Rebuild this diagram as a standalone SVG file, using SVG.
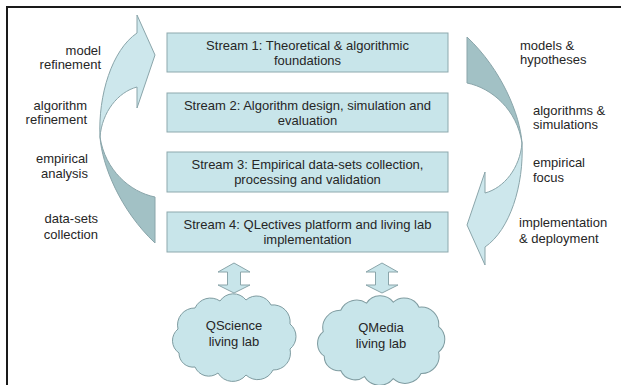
<svg xmlns="http://www.w3.org/2000/svg" width="621" height="385" viewBox="0 0 621 385">
<style>
text{font-family:"Liberation Sans",Arial,sans-serif;font-size:13px;fill:#262626}
.c{text-anchor:middle}
.e{text-anchor:end}
.box{fill:#c8e5ea;stroke:#8ea9ae;stroke-width:1}
.lt{fill:#cde7ec;stroke:#8aa5aa;stroke-width:1}
.dk{fill:#a2c1c5;stroke:#8aa5aa;stroke-width:1}
.cl{fill:#c8e5ea;stroke:#7f9ca1;stroke-width:1}
</style>
<defs>
<g id="carrow">
<path class="dk" d="M155,197 C130,192 105,170 100,137 C102,165 120,210 155,243 Z"/>
<path class="lt" d="M100,137 C98,95 112,50 137,33 L137,15 L155,55 L137,108 L137,87 C118,92 102,112 100,137 Z"/>
</g>
<path id="cloud" class="cl" d="M9,60 A15,15 0 0 1 8,36 A17,17 0 0 1 25,15 A17,17 0 0 1 50,8 A16,16 0 0 1 76,7 A16,16 0 0 1 101,12 A17,17 0 0 1 120,31 A16,16 0 0 1 120,56 A17,17 0 0 1 103,77 A17,17 0 0 1 76,82 A17,17 0 0 1 48,80 A15,15 0 0 1 25,74 A14,14 0 0 1 9,60 Z"/>
<path id="dbl" d="M0,0 L16,9 L6.5,9 L6.5,22 L16,22 L0,30 L-16,22 L-6.5,22 L-6.5,9 L-16,9 Z" fill="#c8e5ea" stroke="#8aa5aa" stroke-width="1"/>
</defs>
<rect width="621" height="385" fill="#ffffff"/>
<path d="M7,385 L7,7 L621,7" fill="none" stroke="#1a1a1a" stroke-width="2"/>

<g id="connectors">
<use id="arrow-left" href="#carrow"/>
<use id="arrow-right" href="#carrow" transform="rotate(180 311 140)"/>
<use id="dbl-qscience" href="#dbl" x="234" y="263"/>
<use id="dbl-qmedia" href="#dbl" x="382" y="263"/>
</g>

<g id="stream1"><rect class="box" x="167" y="33" width="281" height="39"/>
<text class="c" x="307.5" y="50">Stream 1: Theoretical &amp; algorithmic</text>
<text class="c" x="307.5" y="65">foundations</text></g>
<g id="stream2"><rect class="box" x="167" y="93" width="281" height="39"/>
<text class="c" x="307.5" y="110">Stream 2: Algorithm design, simulation and</text>
<text class="c" x="307.5" y="125">evaluation</text></g>
<g id="stream3"><rect class="box" x="167" y="152" width="281" height="40"/>
<text class="c" x="307.5" y="169">Stream 3: Empirical data-sets collection,</text>
<text class="c" x="307.5" y="184">processing and validation</text></g>
<g id="stream4"><rect class="box" x="167" y="212" width="281" height="40"/>
<text class="c" x="307.5" y="229">Stream 4: QLectives platform and living lab</text>
<text class="c" x="307.5" y="244">implementation</text></g>

<g id="qscience"><use href="#cloud" transform="translate(170,293)"/>
<text class="c" x="234" y="330">QScience</text>
<text class="c" x="234" y="346">living lab</text></g>
<g id="qmedia"><use href="#cloud" transform="translate(315,295) scale(1.03,1.02)"/>
<text class="c" x="381" y="332">QMedia</text>
<text class="c" x="381" y="348">living lab</text></g>

<g id="left-labels">
<text class="e" x="101" y="55">model</text>
<text class="e" x="101" y="69">refinement</text>
<text class="e" x="87" y="110">algorithm</text>
<text class="e" x="87" y="124">refinement</text>
<text class="e" x="88" y="163">empirical</text>
<text class="e" x="88" y="178">analysis</text>
<text class="e" x="98" y="223">data-sets</text>
<text class="e" x="98" y="239">collection</text>
</g>
<g id="right-labels">
<text x="520" y="50">models &amp;</text>
<text x="520" y="64">hypotheses</text>
<text x="533" y="115">algorithms &amp;</text>
<text x="533" y="129">simulations</text>
<text x="533" y="167">empirical</text>
<text x="533" y="182">focus</text>
<text x="519" y="227">implementation</text>
<text x="519" y="243">&amp; deployment</text>
</g>
</svg>
